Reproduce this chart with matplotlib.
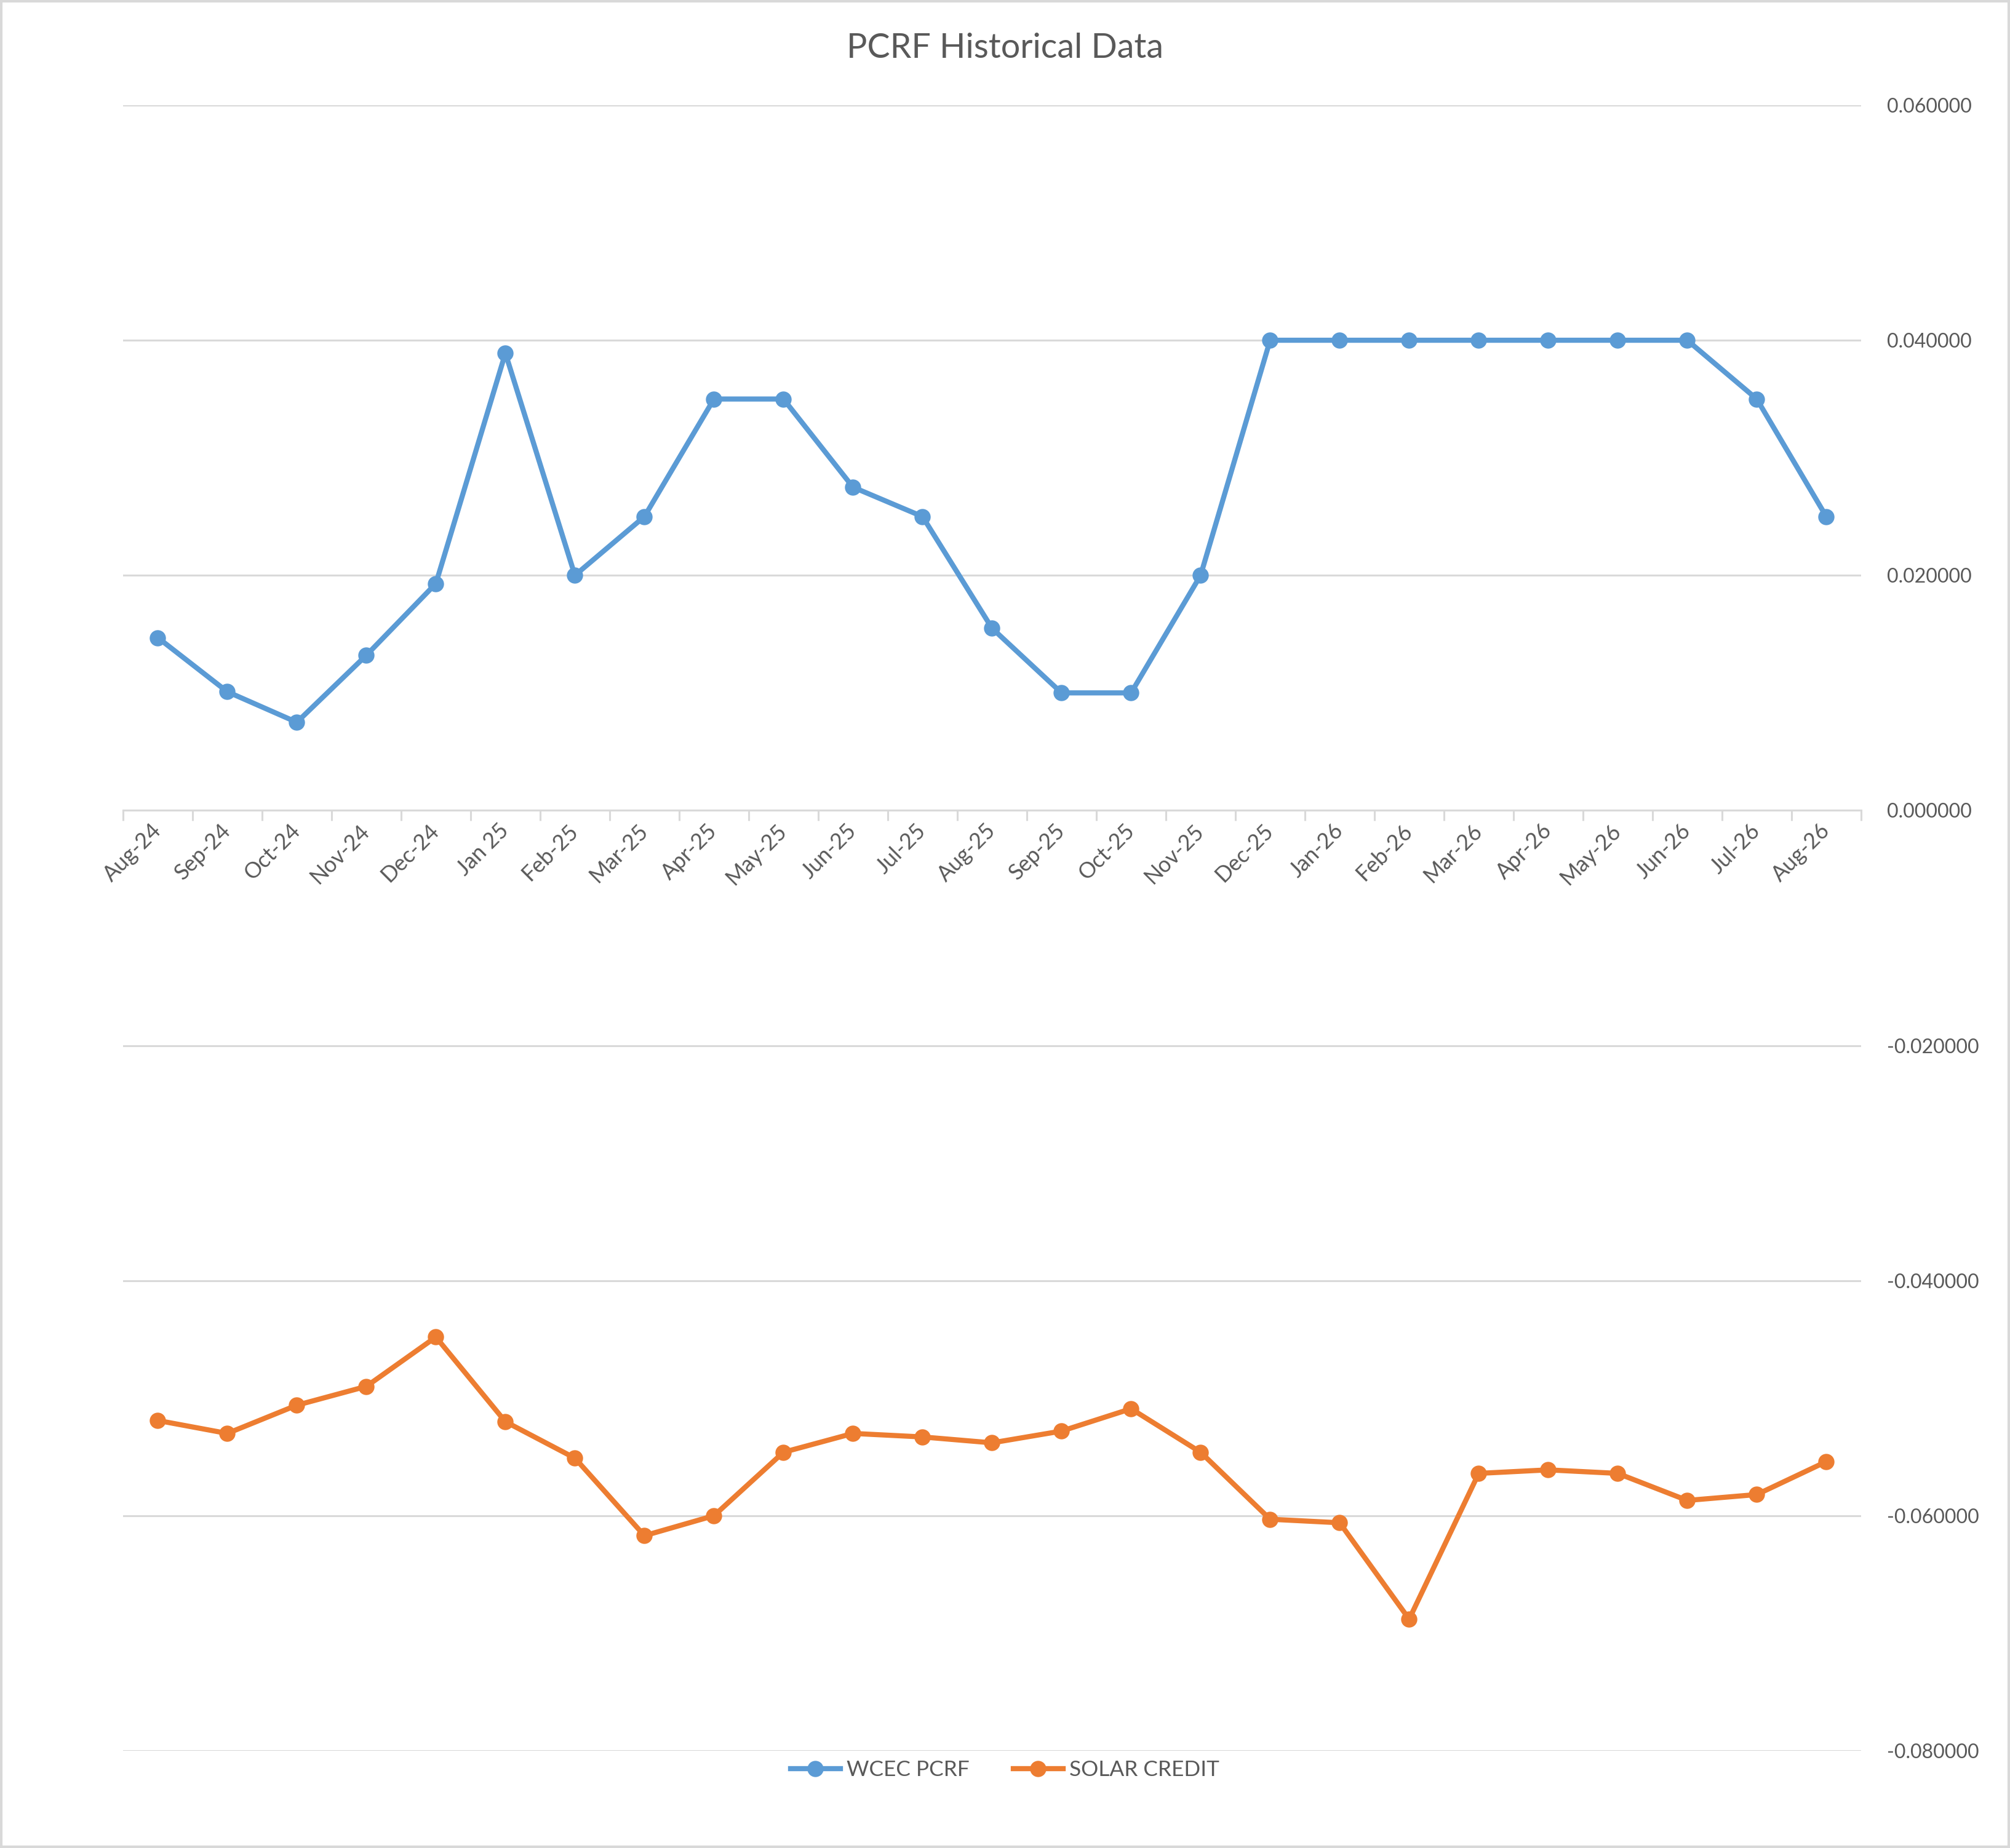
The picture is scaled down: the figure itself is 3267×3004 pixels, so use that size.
import matplotlib
matplotlib.use("Agg")
import matplotlib.pyplot as plt
from matplotlib.patches import Rectangle
from matplotlib.ticker import FuncFormatter, FixedLocator
import numpy as np

plt.rcParams['font.family'] = ['Lato', 'DejaVu Sans']

months = ['Aug-24', 'Sep-24', 'Oct-24', 'Nov-24', 'Dec-24', 'Jan 25', 'Feb-25',
          'Mar-25', 'Apr-25', 'May-25', 'Jun-25', 'Jul-25', 'Aug-25', 'Sep-25',
          'Oct-25', 'Nov-25', 'Dec-25', 'Jan-26', 'Feb-26', 'Mar-26', 'Apr-26',
          'May-26', 'Jun-26', 'Jul-26', 'Aug-26']

wcec_pcrf = [0.0147, 0.0101, 0.0075, 0.0132, 0.0193, 0.0389, 0.0200,
             0.0250, 0.0350, 0.0350, 0.0275, 0.0250, 0.0155, 0.0100,
             0.0100, 0.0200, 0.0400, 0.0400, 0.0400, 0.0400, 0.0400,
             0.0400, 0.0400, 0.0350, 0.0250]

solar_credit = [-0.0519, -0.0530, -0.0506, -0.0490, -0.0448, -0.0520, -0.0551,
                -0.0617, -0.0600, -0.0546, -0.0530, -0.0533, -0.0538, -0.0528,
                -0.0509, -0.0546, -0.0603, -0.0606, -0.0688, -0.0564, -0.0561,
                -0.0564, -0.0587, -0.0582, -0.0554]

BLUE = '#5B9BD5'
ORANGE = '#ED7D31'
GRID = '#D9D9D9'
TEXT = '#595959'

fig = plt.figure(figsize=(16.335, 15.02), dpi=200)
ax = fig.add_axes([0.0612, 0.0526, 0.8647, 0.8905])

x = np.arange(len(months))
ax.plot(x, wcec_pcrf, color=BLUE, lw=3.0, marker='o', ms=8.5, label='WCEC PCRF',
        solid_joinstyle='round', zorder=3)
ax.plot(x, solar_credit, color=ORANGE, lw=3.0, marker='o', ms=8.5, label='SOLAR CREDIT',
        solid_joinstyle='round', zorder=3)

ax.set_xlim(-0.5, len(months) - 0.5)
ax.set_ylim(-0.08, 0.06)
ax.set_yticks(np.arange(-0.08, 0.0601, 0.02))
ax.yaxis.set_major_formatter(FuncFormatter(lambda v, p: f"{v:.6f}" if abs(v) > 1e-9 else "0.000000"))
ax.yaxis.tick_right()
ax.tick_params(axis='y', length=0, pad=15, labelsize=11.5, labelcolor=TEXT)
ax.grid(axis='y', color=GRID, lw=1.1, zorder=0)

for s in ['top', 'left', 'right']:
    ax.spines[s].set_visible(False)
ax.spines['bottom'].set_position(('data', 0))
ax.spines['bottom'].set_color(GRID)
ax.spines['bottom'].set_linewidth(1.1)
ax.spines['bottom'].set_zorder(1)

ax.xaxis.set_major_locator(FixedLocator(x))
ax.set_xticklabels(months)
ax.xaxis.set_minor_locator(FixedLocator(np.arange(-0.5, len(months), 1.0)))
ax.tick_params(axis='x', which='major', length=0, pad=10, labelsize=12.8, labelcolor=TEXT)
ax.tick_params(axis='x', which='minor', length=6, width=1.1, color=GRID, direction='out')
for lbl in ax.get_xticklabels():
    lbl.set_rotation(45)
    lbl.set_ha('right')
    lbl.set_va('center')
    lbl.set_rotation_mode('anchor')

fig.text(0.5, 0.974, 'PCRF Historical Data', ha='center', va='center',
         fontsize=20, color=TEXT)

fig.legend(loc='center', bbox_to_anchor=(0.5, 0.0423), ncol=2, frameon=False,
           fontsize=12.7, labelcolor=TEXT, handlelength=2.3, columnspacing=2.0,
           handletextpad=0.3)

fig.patches.append(Rectangle((0.0005, 0.0005), 0.999, 0.999, transform=fig.transFigure,
                             fill=False, edgecolor=GRID, lw=1.5))

fig.savefig('out.png', dpi=200, facecolor='white')
